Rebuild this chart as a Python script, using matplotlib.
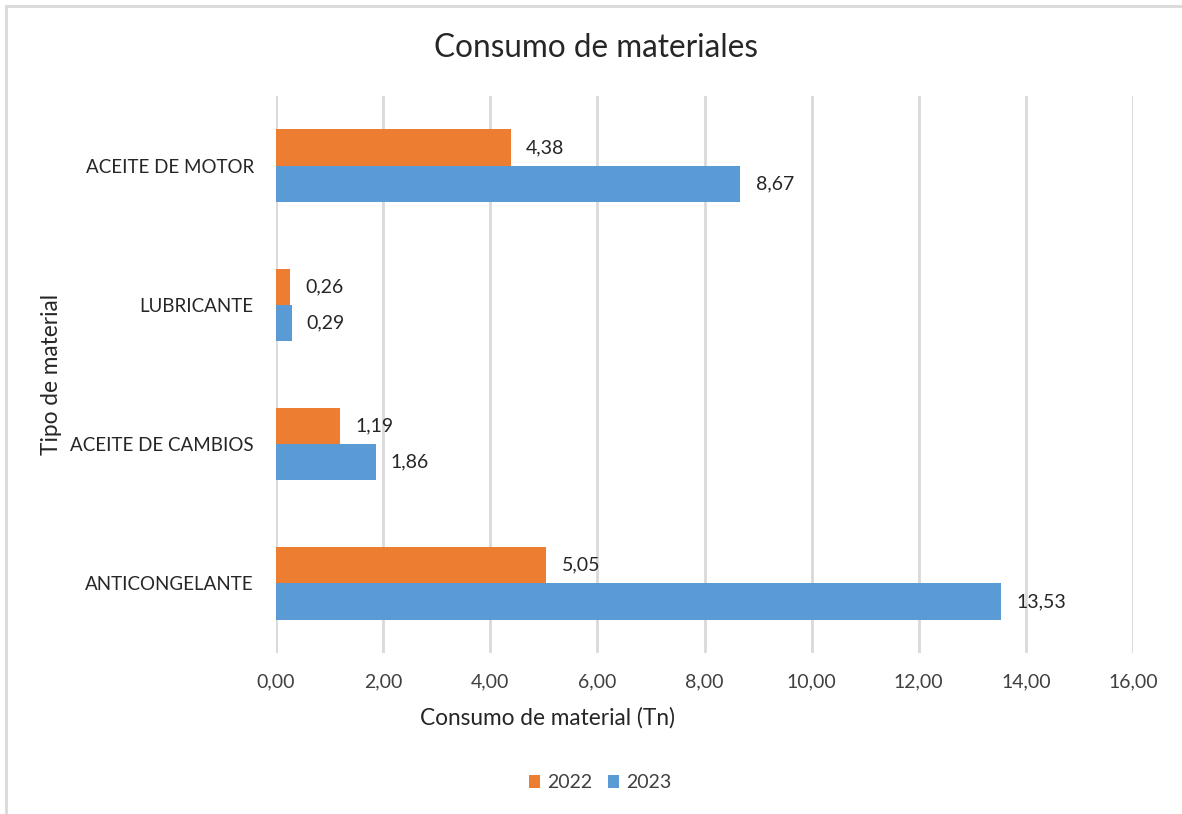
import numpy as np
import matplotlib.pyplot as plt
from matplotlib.patches import Rectangle

# Data (bottom to top as drawn)
materiales = ['ANTICONGELANTE', 'ACEITE DE CAMBIOS', 'LUBRICANTE', 'ACEITE DE MOTOR']
valores_2022 = [5.05, 1.19, 0.26, 4.38]
valores_2023 = [13.53, 1.86, 0.29, 8.67]
anios = ['2022', '2023']

COLOR_2022 = '#ED7D31'
COLOR_2023 = '#5B9BD5'
TEXT = '#404040'
DARK = '#262626'

plt.rcParams['font.family'] = ['Lato', 'DejaVu Sans']

W, H = 1182, 814


def fmt(v):
    return f'{v:.2f}'.replace('.', ',')


fig = plt.figure(figsize=(W / 100, H / 100), dpi=100)
ax = fig.add_axes([276 / W, 1 - 653 / H, 857 / W, 557 / H])

y = np.arange(len(materiales))
h = 0.26
b1 = ax.barh(y + h / 2, valores_2022, height=h, color=COLOR_2022, label=anios[0])
b2 = ax.barh(y - h / 2, valores_2023, height=h, color=COLOR_2023, label=anios[1])

for bars, vals in ((b1, valores_2022), (b2, valores_2023)):
    ax.bar_label(bars, labels=[fmt(v) for v in vals], padding=11,
                 fontsize=14, color=DARK)

ax.set_xlim(0, 16)
ax.set_ylim(-0.5, len(materiales) - 0.5)
ticks = np.arange(0, 17, 2)
ax.set_xticks(ticks)
ax.set_xticklabels([fmt(v) for v in ticks], fontsize=14, color=TEXT)
ax.set_yticks(y)
ax.set_yticklabels(materiales, fontsize=13.5, color=DARK)
ax.tick_params(axis='both', length=0)
ax.tick_params(axis='x', pad=15)
ax.tick_params(axis='y', pad=16)

ax.grid(axis='x', color='#D9D9D9', linewidth=2)
ax.set_axisbelow(True)
for s in ax.spines.values():
    s.set_visible(False)

# axis titles
fig.text(548 / W, 1 - 718 / H, 'Consumo de material (Tn)', ha='center', va='center',
         fontsize=16.3, color=DARK)
fig.text(52 / W, 1 - 374 / H, 'Tipo de material', ha='center', va='center',
         rotation=90, fontsize=16.3, color=DARK)

fig.text(596 / W, 1 - 48 / H, 'Consumo de materiales', ha='center', va='center',
         fontsize=22.7, color=DARK)

handles, labels = ax.get_legend_handles_labels()
fig.legend(handles, labels, loc='center', bbox_to_anchor=(600 / W, 1 - 783 / H),
           ncol=2, frameon=False, fontsize=14, handlelength=0.6, handleheight=0.6,
           columnspacing=0.8, handletextpad=0.35, labelcolor=TEXT)

# chart border (only top and left edges visible in the crop)
fig.patches.append(Rectangle((6 / W, -0.1), 1.2, 1 - 6 / H + 0.1,
                             transform=fig.transFigure, fill=False,
                             edgecolor='#D9D9D9', linewidth=2))

fig.savefig('out.png', dpi=100)
